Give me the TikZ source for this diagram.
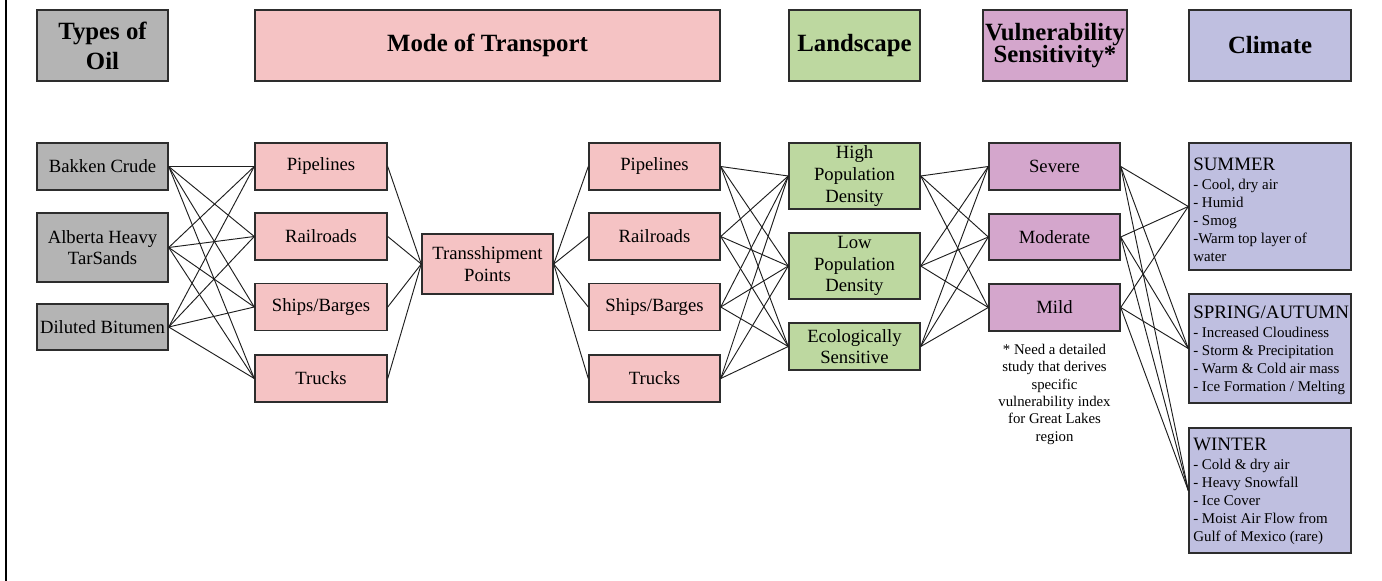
\documentclass[tikz,border=0pt]{standalone}
\usepackage{fontspec}
\setmainfont{Liberation Serif}
\definecolor{grayfill}{RGB}{180,180,180}
\definecolor{pinkfill}{RGB}{245,195,196}
\definecolor{greenfill}{RGB}{189,216,160}
\definecolor{purplefill}{RGB}{212,166,204}
\definecolor{bluefill}{RGB}{191,191,224}
\definecolor{boxline}{RGB}{45,45,45}
\definecolor{edgecol}{RGB}{30,30,30}
\newcommand\bodyfont{\fontsize{14pt}{16.3pt}\selectfont}
\newcommand\hdrfont[1]{\fontsize{18.6pt}{#1}\selectfont\bfseries\lineskiplimit=-20pt\lineskip=0pt}
\newcommand\climfont{\fontsize{11.2pt}{13.5pt}\selectfont}
\newcommand\climtitle[1]{{\fontsize{14.2pt}{14.5pt}\selectfont #1}}
\tikzset{
  box/.style={draw=boxline, line width=1.1pt, inner sep=2pt, align=center, font=\bodyfont},
  sz/.style 2 args={minimum width=#1*0.75pt, minimum height=#2*0.75pt},
  hdr/.style={box, font=\hdrfont{16pt}},
  graybox/.style={box, fill=grayfill},
  pinkbox/.style={box, fill=pinkfill},
  greenbox/.style={box, fill=greenfill},
  purplebox/.style={box, fill=purplefill},
  bluebox/.style={box, fill=bluefill},
  climtext/.style={anchor=north west, inner sep=0pt, align=left, font=\climfont},
  edge/.style={draw=edgecol, line width=0.7pt},
  note/.style={align=center, inner sep=0pt, font=\fontsize{11.1pt}{13pt}\selectfont}
}
\begin{document}
\begin{tikzpicture}[x=0.75pt, y=-0.75pt]
\useasboundingbox[fill=white] (0,0) rectangle (1382,581);
\draw[line width=0.8pt, black] (6,0) -- (6,581);

% headers
\node[hdr, fill=grayfill, sz={131}{71}, font=\hdrfont{22.5pt}] (hOil) at (102.5,45.5) {Types of\\Oil};
\node[hdr, fill=pinkfill, sz={465}{71}] (hMode) at (487.5,45.5) {Mode of Transport};
\node[hdr, fill=greenfill, sz={131}{71}] (hLand) at (854.5,45.5) {Landscape};
\node[hdr, fill=purplefill, sz={144}{71}, inner xsep=0pt, font=\hdrfont{16.8pt}] (hVul) at (1055,45.5) {Vulnerability\\Sensitivity*};
\node[hdr, fill=bluefill, sz={162}{71}] (hClim) at (1270,45.5) {Climate};

% types of oil
\node[graybox, sz={131}{47}] (g1) at (102.5,166.5) {Bakken Crude};
\node[graybox, sz={131}{69}] (g2) at (102.5,247.5) {Alberta Heavy\\TarSands};
\node[graybox, sz={131}{46}, inner sep=0pt] (g3) at (102.5,327) {Diluted Bitumen};

% transport column 1
\node[pinkbox, sz={132}{47}] (a1) at (321,166.5) {Pipelines};
\node[pinkbox, sz={132}{47}] (a2) at (321,236.5) {Railroads};
\node[pinkbox, sz={132}{47}] (a3) at (321,307) {Ships/Barges};
\node[pinkbox, sz={132}{47}] (a4) at (321,378.5) {Trucks};

% transshipment
\node[pinkbox, sz={131}{60}] (t) at (487.5,264) {Transshipment\\Points};

% transport column 2
\node[pinkbox, sz={131}{47}] (b1) at (654.5,166.5) {Pipelines};
\node[pinkbox, sz={131}{47}] (b2) at (654.5,236.5) {Railroads};
\node[pinkbox, sz={131}{47}] (b3) at (654.5,307) {Ships/Barges};
\node[pinkbox, sz={131}{47}] (b4) at (654.5,378.5) {Trucks};

% landscape
\node[greenbox, sz={131}{66}] (l1) at (854.5,176) {High\\Population\\Density};
\node[greenbox, sz={131}{66}] (l2) at (854.5,266) {Low\\Population\\Density};
\node[greenbox, sz={131}{47}] (l3) at (854.5,346.5) {Ecologically\\Sensitive};

% vulnerability
\node[purplebox, sz={131}{47}] (v1) at (1054.5,166.5) {Severe};
\node[purplebox, sz={131}{46}] (v2) at (1054.5,237) {Moderate};
\node[purplebox, sz={131}{47}] (v3) at (1054.5,307.5) {Mild};

\node[note] (nt) at (1054.5,344) [anchor=north] {* Need a detailed\\study that derives\\specific\\vulnerability index\\for Great Lakes\\region};

% climate
\node[bluebox, sz={162}{127}] (c1) at (1270,206.5) {};
\node[bluebox, sz={162}{109}] (c2) at (1270,348.5) {};
\node[bluebox, sz={162}{125}] (c3) at (1270,490.5) {};
\node[climtext] (c1t) at (1193,157.5) {\climtitle{SUMMER}\\[1pt]- Cool, dry air\\- Humid\\- Smog\\-Warm top layer of\\water};
\node[climtext] (c2t) at (1193,305.5) {\climtitle{SPRING/AUTUMN}\\[1pt]- Increased Cloudiness\\- Storm \& Precipitation\\- Warm \& Cold air mass\\- Ice Formation / Melting};
\node[climtext] (c3t) at (1193,437.5) {\climtitle{WINTER}\\[1pt]- Cold \& dry air\\- Heavy Snowfall\\- Ice Cover\\- Moist Air Flow from\\Gulf of Mexico (rare)};

% connectors
\foreach \s in {g1,g2,g3} \foreach \d in {a1,a2,a3,a4} \draw[edge] (\s.east) -- (\d.west);
\foreach \s in {a1,a2,a3,a4} \draw[edge] (\s.east) -- (t.west);
\foreach \d in {b1,b2,b3,b4} \draw[edge] (t.east) -- (\d.west);
\foreach \s in {b1,b2,b3,b4} \foreach \d in {l1,l2,l3} \draw[edge] (\s.east) -- (\d.west);
\foreach \s in {l1,l2,l3} \foreach \d in {v1,v2,v3} \draw[edge] (\s.east) -- (\d.west);
\foreach \s in {v1,v2,v3} \foreach \d in {c1,c2,c3} \draw[edge] (\s.east) -- (\d.west);
\end{tikzpicture}
\end{document}
